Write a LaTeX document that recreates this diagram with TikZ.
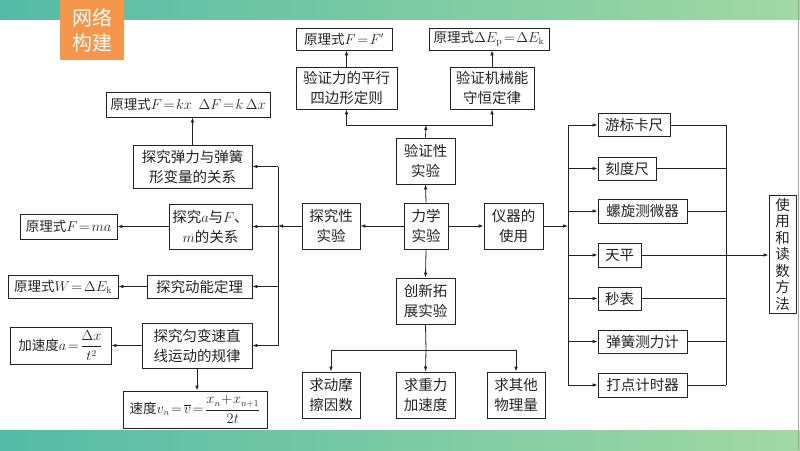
\documentclass[tikz,border=0pt]{standalone}
\usepackage{fontspec}
\usepackage{amsmath}
\newfontfamily\cjk{Noto Sans CJK SC}
\usetikzlibrary{arrows.meta}
\definecolor{barL}{HTML}{55BBA6}
\definecolor{barR}{HTML}{A2D8A4}
\definecolor{badge}{HTML}{F5964A}
\definecolor{ink}{HTML}{222222}
\tikzset{
  box/.style={draw=ink, line width=0.8pt, inner sep=0pt, align=center,
    font={\cjk\fontsize{14.5}{20}\selectfont}, text=ink},
  fbox/.style={box, font={\cjk\fontsize{13.5}{18}\selectfont}},
  arr/.style={draw=ink, line width=0.8pt, -{Latex[length=5pt,width=3.6pt]}},
  ln/.style={draw=ink, line width=0.8pt},
}
\newcommand{\bx}[5]{\node[box, minimum width=#3, minimum height=#4] (#1) at (#2) {#5};}
\newcommand{\fx}[5]{\node[fbox, minimum width=#3, minimum height=#4] (#1) at (#2) {#5};}
\begin{document}
\begin{tikzpicture}[x=1pt,y=-1pt]
\useasboundingbox (0,0) rectangle (800,450);
% bars
\shade[left color=barL, right color=barR] (0,0) rectangle (800,19);
\shade[left color=barL, right color=barR] (0,430) rectangle (800,450);
\draw[gray!70, line width=0.8pt] (798.5,0) -- (798.5,450);
% badge
\fill[badge] (60,0) rectangle (124,60);
\node[text=white, align=center, font={\cjk\fontsize{20}{25}\selectfont}] (badgetxt) at (92,30) {网络\\构建};
% top
\fx{fF}{344,39}{96}{22}{原理式$F\!=\!F'$}
\fx{fE}{489,39}{120}{22}{原理式$\Delta E_{\mathrm p}\!=\!\Delta E_{\mathrm k}$}
\bx{vPar}{346.5,88}{101}{42}{验证力的平行\\四边形定则}
\bx{vMech}{492,88}{84}{42}{验证机械能\\守恒定律}
\bx{vExp}{425.5,161}{59}{46}{验证性\\实验}
% center
\bx{main}{426,226}{44}{46}{力学\\实验}
\bx{tExp}{331,226}{58}{46}{探究性\\实验}
\bx{yUse}{513.5,226}{59}{46}{仪器的\\使用}
\bx{cExp}{425.5,301}{59}{46}{创新拓\\展实验}
% bottom
\bx{b1}{331,395}{58}{46}{求动摩\\擦因数}
\bx{b2}{425.5,395}{59}{46}{求重力\\加速度}
\bx{b3}{516,395}{58}{46}{求其他\\物理量}
% left
\fx{fK}{188,104.5}{164}{25}{原理式$F\!=\!kx\enspace\Delta F\!=\!k\,\Delta x$}
\bx{sSpring}{192.5,166.5}{119}{43}{探究弹力与弹簧\\形变量的关系}
\bx{sA}{210.5,226.5}{83}{45}{探究$a$与$F$、\\$m$的关系}
\fx{fMa}{68.5,226.5}{97}{25}{原理式$F\!=\!ma$}
\bx{sKin}{199.5,286.5}{105}{23}{探究动能定理}
\fx{fW}{63,286.5}{110}{23}{原理式$W\!=\!\Delta E_{\mathrm k}$}
\bx{sUni}{197,345.5}{110}{45}{探究匀变速直\\线运动的规律}
\fx{fAcc}{60.5,345.5}{101}{37}{加速度$a\!=\!\dfrac{\Delta x}{t^2}$}
\fx{fV}{195,409.5}{144}{37}{速度$v_n\!=\!\overline{v}\!=\!\dfrac{x_n\!+\!x_{n+1}}{2t}$}
% right
\bx{y1}{634,125}{72}{23}{游标卡尺}
\bx{y2}{627,168.5}{58}{23}{刻度尺}
\bx{y3}{642.5,211}{89}{24}{螺旋测微器}
\bx{y4}{619.5,255}{43}{24}{天平}
\bx{y5}{619.5,298.5}{43}{23}{秒表}
\bx{y6}{642.5,341.5}{89}{23}{弹簧测力计}
\bx{y7}{642.5,385}{89}{24}{打点计时器}
\node[box, minimum width=27, minimum height=118, font={\cjk\fontsize{14.5}{16.5}\selectfont}] (fin) at (782.5,254) {使\\用\\和\\读\\数\\方\\法};
% coordinates
\coordinate (J) at (426,125);
\coordinate (K) at (426,350);
\coordinate (LB) at (278,226);
\coordinate (RB) at (568,226);
\coordinate (RB2) at (726,226);
% top connectors
\draw[arr] (main.north) -- (vExp.south);
\draw[arr] (vExp.north) -- (J);
\draw[arr] (J) -| (vPar.south);
\draw[arr] (J) -| (vMech.south);
\draw[arr] (vPar.north) -- (vPar.north |- fF.south);
\draw[arr] (vMech.north) -- (vMech.north |- fE.south);
% center
\draw[arr] (main.west) -- (tExp.east);
\draw[arr] (main.east) -- (yUse.west);
\draw[arr] (main.south) -- (cExp.north);
% bottom
\draw[ln] (cExp.south) -- (K);
\draw[arr] (K) -| (b1.north);
\draw[arr] (K) -- (b2.north);
\draw[arr] (K) -| (b3.north);
% left
\draw[arr] (tExp.west) -- (LB);
\draw[ln] (LB |- sSpring.east) -- (LB |- sUni.east);
\draw[arr] (LB |- sSpring.east) -- (sSpring.east);
\draw[arr] (LB |- sA.east) -- (sA.east);
\draw[arr] (LB |- sKin.east) -- (sKin.east);
\draw[arr] (LB |- sUni.east) -- (sUni.east);
\draw[arr] (sSpring.north) -- (sSpring.north |- fK.south);
\draw[arr] (sA.west) -- (sA.west -| fMa.east);
\draw[arr] (sKin.west) -- (sKin.west -| fW.east);
\draw[arr] (sUni.west) -- (sUni.west -| fAcc.east);
\draw[arr] (sUni.south) -- (sUni.south |- fV.north);
% right
\draw[arr] (yUse.east) -- (RB);
\draw[ln] (RB |- y1.west) -- (RB |- y7.west);
\foreach \i in {1,...,7}{
  \draw[arr] (RB |- y\i.west) -- (y\i.west);
  \draw[ln] (y\i.east) -- (RB2 |- y\i.east);
}
\draw[ln] (RB2 |- y1.east) -- (RB2 |- y7.east);
\draw[arr] (y4.east) -- (y4.east -| fin.west);
\end{tikzpicture}
\end{document}
